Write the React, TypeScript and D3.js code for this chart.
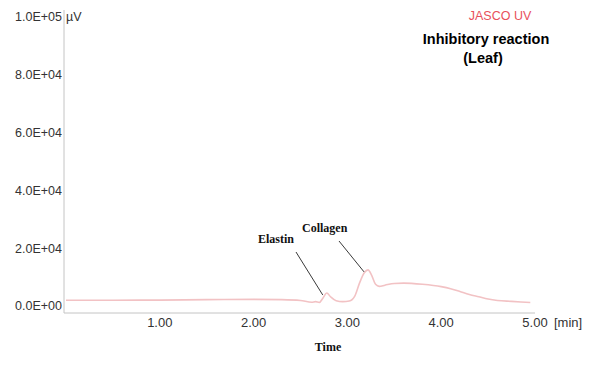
import React, { useEffect, useRef } from "react";
import * as d3 from "d3";

// chromatogram trace: time in min, signal in µV
const times = [0, 0.5, 1.0, 1.5, 2.0, 2.3, 2.5, 2.62, 2.66, 2.7, 2.74, 2.78, 2.82, 2.88, 2.95, 3.02, 3.08, 3.13, 3.18, 3.22, 3.26, 3.3, 3.34, 3.4, 3.5, 3.6, 3.8, 4.0, 4.1, 4.2, 4.3, 4.4, 4.5, 4.6, 4.75, 4.95];
const signal = [2000, 2000, 2050, 2200, 2300, 2200, 1900, 1300, 1500, 1200, 2800, 4500, 3200, 1800, 1500, 1700, 3500, 8000, 11500, 12500, 10500, 7500, 6800, 7200, 7800, 7900, 7500, 6700, 6000, 5000, 4000, 3200, 2400, 1900, 1600, 1200];

const xTicks = [1, 2, 3, 4, 5];
const yTicks = [0, 20000, 40000, 60000, 80000, 100000];

// peak labels: name, peak time, peak value
const peakNames = ["Elastin", "Collagen"];
const peakTimes = [2.78, 3.22];
const peakValues = [4500, 12500];

const Chart = () => {
  const ref = useRef<SVGSVGElement>(null);

  useEffect(() => {
    const svg = d3.select(ref.current);
    svg.selectAll("*").remove();

    const x = d3.scaleLinear().domain([0, 5]).range([66, 535]);
    const y = d3.scaleLinear().domain([0, 100000]).range([306, 17]);
    const axisColor = "#c4c4c4";
    const sans = "'Liberation Sans', Arial, sans-serif";
    const serif = "'Liberation Serif', 'Times New Roman', serif";

    // axes lines
    svg.append("line").attr("x1", 64).attr("x2", 64).attr("y1", 10).attr("y2", 313)
      .attr("stroke", axisColor).attr("stroke-width", 1);
    svg.append("line").attr("x1", 64).attr("x2", x(5)).attr("y1", 313).attr("y2", 313)
      .attr("stroke", axisColor).attr("stroke-width", 1);

    // y tick labels
    svg.append("g").selectAll("text").data(yTicks).enter().append("text")
      .attr("x", 62).attr("y", (d) => y(d)).attr("dy", "0.35em")
      .attr("text-anchor", "end").attr("font-family", sans).attr("font-size", 12.5)
      .attr("fill", "#333")
      .text((d) => d3.format(".1e")(d).replace("e", "E").replace(/E([+-])(\d)$/, "E$10$2"));
    svg.append("text").attr("x", 66).attr("y", y(100000)).attr("dy", "0.35em")
      .attr("font-family", sans).attr("font-size", 12.5).attr("fill", "#333").text("µV");

    // x tick labels
    svg.append("g").selectAll("text").data(xTicks).enter().append("text")
      .attr("x", (d) => x(d)).attr("y", 327)
      .attr("text-anchor", "middle").attr("font-family", sans).attr("font-size", 13)
      .attr("fill", "#333").text((d) => d.toFixed(2));
    svg.append("text").attr("x", x(5) + 19).attr("y", 327)
      .attr("font-family", sans).attr("font-size", 13).attr("fill", "#333").text("[min]");

    // trace
    const pts = times.map((t, i) => [t, signal[i]] as [number, number]);
    const line = d3.line<[number, number]>()
      .x((d) => x(d[0])).y((d) => y(d[1])).curve(d3.curveMonotoneX);
    svg.append("path").datum(pts).attr("d", line).attr("fill", "none")
      .attr("stroke", "#f2c2c4").attr("stroke-width", 1.6);

    // peak annotations
    const labelPos = [[258, 243], [302, 232]];
    const leaderStart = [[296, 252], [339, 241]];
    peakNames.forEach((name, i) => {
      svg.append("line")
        .attr("x1", leaderStart[i][0]).attr("y1", leaderStart[i][1])
        .attr("x2", x(peakTimes[i]) - 4).attr("y2", y(peakValues[i]) + 2)
        .attr("stroke", "#222").attr("stroke-width", 0.9);
      svg.append("text").attr("x", labelPos[i][0]).attr("y", labelPos[i][1])
        .attr("font-family", serif).attr("font-weight", "bold").attr("font-size", 12)
        .attr("fill", "#111").text(name);
    });

    // titles
    svg.append("text").attr("x", 500).attr("y", 20).attr("text-anchor", "middle")
      .attr("font-family", sans).attr("font-size", 12.5).attr("fill", "#e8505b").text("JASCO UV");
    svg.append("text").attr("x", 486).attr("y", 44).attr("text-anchor", "middle")
      .attr("font-family", sans).attr("font-weight", "bold").attr("font-size", 14.5)
      .attr("fill", "#000").text("Inhibitory reaction");
    svg.append("text").attr("x", 483).attr("y", 63).attr("text-anchor", "middle")
      .attr("font-family", sans).attr("font-weight", "bold").attr("font-size", 14.5)
      .attr("fill", "#000").text("(Leaf)");

    svg.append("text").attr("x", 328).attr("y", 351).attr("text-anchor", "middle")
      .attr("font-family", serif).attr("font-weight", "bold").attr("font-size", 12)
      .attr("fill", "#111").text("Time");
  }, []);

  return (
    <svg ref={ref} width={597} height={369}
      style={{ position: "absolute", left: 0, top: 0, background: "#fff" }} />
  );
};

export default function App() {
  return <Chart />;
}
